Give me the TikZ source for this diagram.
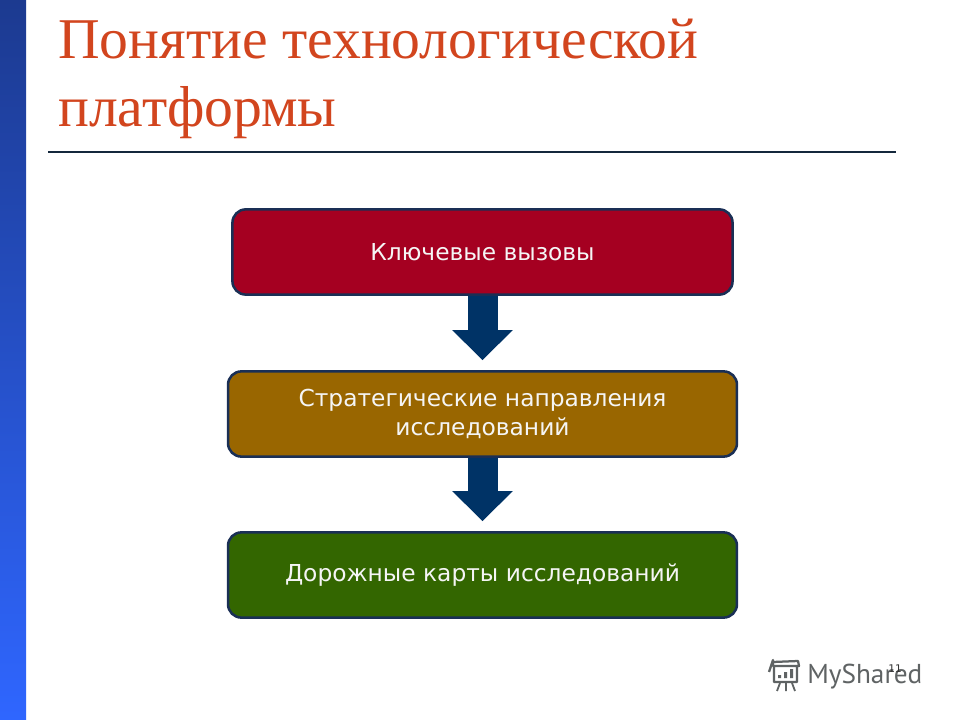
\documentclass[tikz,border=0pt]{standalone}
\usepackage{fontspec}
\setmainfont{Liberation Serif}
\setsansfont{DejaVu Sans}
\newfontfamily\marchiofont{PT Sans}
\usetikzlibrary{arrows.meta}
\definecolor{titlered}{HTML}{D2451E}
\definecolor{barTop}{HTML}{1C3A90}
\definecolor{barBottom}{HTML}{2F66FF}
\definecolor{rulenavy}{HTML}{14283C}
\definecolor{edgenavy}{HTML}{1A2F55}
\definecolor{arrownavy}{HTML}{003366}
\definecolor{keyred}{HTML}{A50021}
\definecolor{stratbrown}{HTML}{996600}
\definecolor{mapgreen}{HTML}{336600}
\definecolor{logogray}{HTML}{5F6364}
\tikzset{
    titolo/.style = {anchor = base west, inner sep = 0pt, text = titlered, font = \rmfamily\fontsize{41}{41}\selectfont},
    blocco/.style = {draw = edgenavy, line width = 1.8pt, rounded corners = 9.5pt, minimum height = 2.13cm, align = center, text = white!96!black, font = \sffamily\fontsize{16.6}{20.5}\selectfont},
    freccia/.style = {draw = arrownavy, line width = 0.75cm, -{Triangle[length = 0.75cm, width = 1.47cm]}, shorten > = 0.25cm}
}
\begin{document}
\begin{tikzpicture}[x = 0.025cm, y = -0.025cm]
    \useasboundingbox (0,0) rectangle (960,720);
    % Sfondo
    \fill[white] (0,0) rectangle (960,720);
    \shade[top color = barTop, bottom color = barBottom] (0,0) rectangle (26,720);
    % Titolo
    \node[titolo] (riga1) at (58,59) {Понятие технологической};
    \node[titolo] (riga2) at (58,127) {платформы};
    \draw[rulenavy, line width = 1.3pt] (48,152) -- (896,152);
    % Blocchi
    \node[blocco, fill = keyred, minimum width = 12.5cm] (sfide) at (482.5,252) {\raisebox{-0.7pt}{Ключевые вызовы}};
    \node[blocco, fill = stratbrown, minimum width = 12.72cm] (strategia) at (482.5,414) {Стратегические направления\\исследований};
    \node[blocco, fill = mapgreen, minimum width = 12.72cm] (mappe) at (482.5,575) {\raisebox{-1pt}{Дорожные карты исследований}};
    % Frecce
    \draw[freccia] (sfide.south) -- (strategia.north);
    \draw[freccia] (strategia.south) -- (mappe.north);
    % Logo
    \draw[logogray, line width = 1.6pt, line join = round] (773,662) -- (798,661) -- (799,666) -- (773,666) -- (773,660) -- (769,672) (774,666) rectangle (797,682);
    \fill[logogray] (778,675) rectangle (781,678) (784,672) rectangle (787,678) (790,669) rectangle (793,678);
    \draw[logogray, line width = 1.3pt] (780,683) -- (777,691) (786,683) -- (786,691) (792,683) -- (795,691);
    \node[anchor = base west, inner sep = 0pt, text = logogray, font = \marchiofont\fontsize{19.4}{19.4}\selectfont] (marchio) at (807,683) {MyShared};
    % Numero
    \node[inner sep = 0pt, text = black!80, font = \sffamily\fontsize{7.5}{7.5}\selectfont] (pagina) at (895,669) {11};
\end{tikzpicture}
\end{document}
